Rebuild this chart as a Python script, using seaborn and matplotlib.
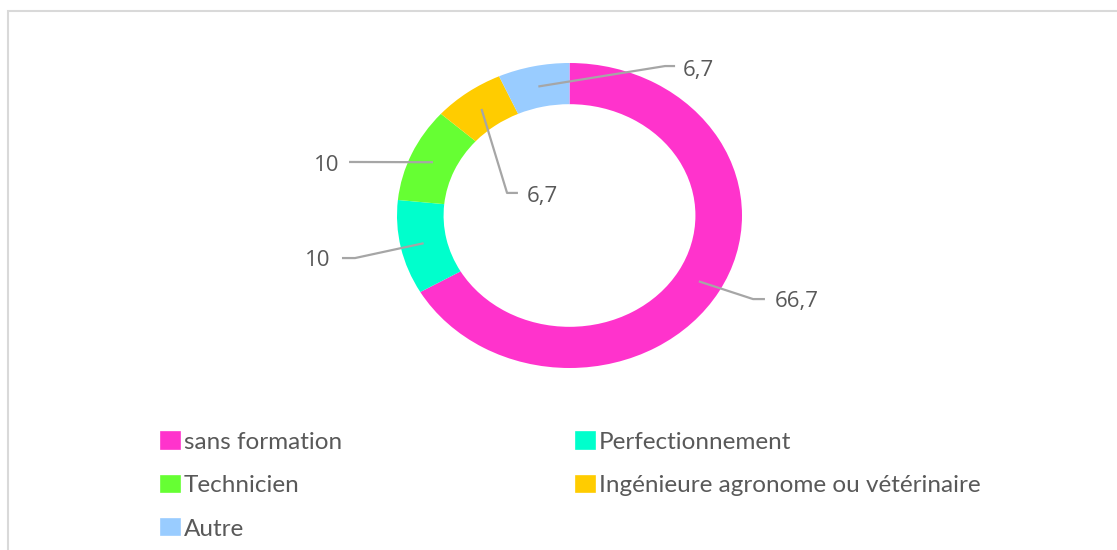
import matplotlib
matplotlib.use("Agg")
import matplotlib.pyplot as plt
import matplotlib.patches as mpatches
import numpy as np
import seaborn as sns

categories = ["sans formation", "Perfectionnement", "Technicien",
              "Ingénieure agronome ou vétérinaire", "Autre"]
values = [66.7, 10, 10, 6.7, 6.7]
value_labels = ["66,7", "10", "10", "6,7", "6,7"]
colors = ["#FF33CC", "#00FFCC", "#66FF33", "#FFCC00", "#99CCFF"]

sns.set_theme(style="white")
plt.rcParams["font.family"] = ["Open Sans", "DejaVu Sans"]

W, H = 1117, 550
fig = plt.figure(figsize=(W / 100, H / 100), dpi=100)

# ring geometry (pixels): centre (569.5, 215.5), radii 172.5 x 152.5
cx, cy, rx, ry = 569.5, 215.5, 172.5, 152.5
ax = fig.add_axes([(cx - rx) / W, (H - cy - ry) / H, 2 * rx / W, 2 * ry / H])
palette = sns.color_palette(colors)
wedges, _ = ax.pie(values, colors=palette, startangle=90, counterclock=False,
                   radius=1.0, wedgeprops=dict(width=0.27, linewidth=0))
ax.set_aspect("auto")
ax.set_xlim(-1, 1)
ax.set_ylim(-1, 1)
ax.axis("off")

# leader lines + labels: (elbow x, elbow y, line end x, label x, label y, ha)
label_layout = [
    (1.064, -0.548, 1.133, 1.191, -0.566, "left"),
    (-1.243, -0.279, -1.319, -1.383, -0.297, "right"),
    (-1.278, 0.351, -1.278, -1.335, 0.328, "right"),
    (-0.362, 0.148, -0.299, -0.246, 0.124, "left"),
    (0.554, 0.980, 0.612, 0.658, 0.950, "left"),
]
total = sum(values)
cum = 0.0
line_col = "#A6A6A6"
for v, lab, (ex, ey, lx, tx, ty, ha) in zip(values, value_labels, label_layout):
    mid = cum + v / 2
    cum += v
    ang = np.deg2rad(90 - 360 * mid / total)
    r = 0.865
    axp, ayp = r * np.cos(ang), r * np.sin(ang)
    ax.plot([axp, ex, lx], [ayp, ey, ey], color=line_col, lw=1.6,
            clip_on=False, solid_capstyle="butt", zorder=3)
    ax.text(tx, ty, lab, ha=ha, va="center", fontsize=16, color="#595959",
            family=["Open Sans", "DejaVu Sans"], clip_on=False)

# legend ordered so that rows read: pink/cyan, green/yellow, blue
order = [0, 2, 4, 1, 3]
handles = [mpatches.Patch(facecolor=colors[i], edgecolor=colors[i],
                          linewidth=1.2, joinstyle="round") for i in order]
labels = [categories[i] for i in order]
leg = fig.legend(handles, labels, ncol=2, loc="upper left",
                 bbox_to_anchor=(161 / W, 1 - 432 / H),
                 frameon=False, handlelength=0.78,
                 handleheight=0.66, handletextpad=0.16, columnspacing=9.63,
                 labelspacing=0.92, borderaxespad=0, borderpad=0,
                 prop={"family": ["Lato", "DejaVu Sans"], "size": 17.5})
for t in leg.get_texts():
    t.set_color("#595959")

# chart area border (top and left visible)
border = mpatches.Rectangle((8 / W, -0.1), 1.2, 1 - 11 / H + 0.1,
                            transform=fig.transFigure, fill=False,
                            edgecolor="#D9D9D9", linewidth=1.5)
fig.patches.append(border)

fig.savefig("out.png", dpi=100, facecolor="white")
